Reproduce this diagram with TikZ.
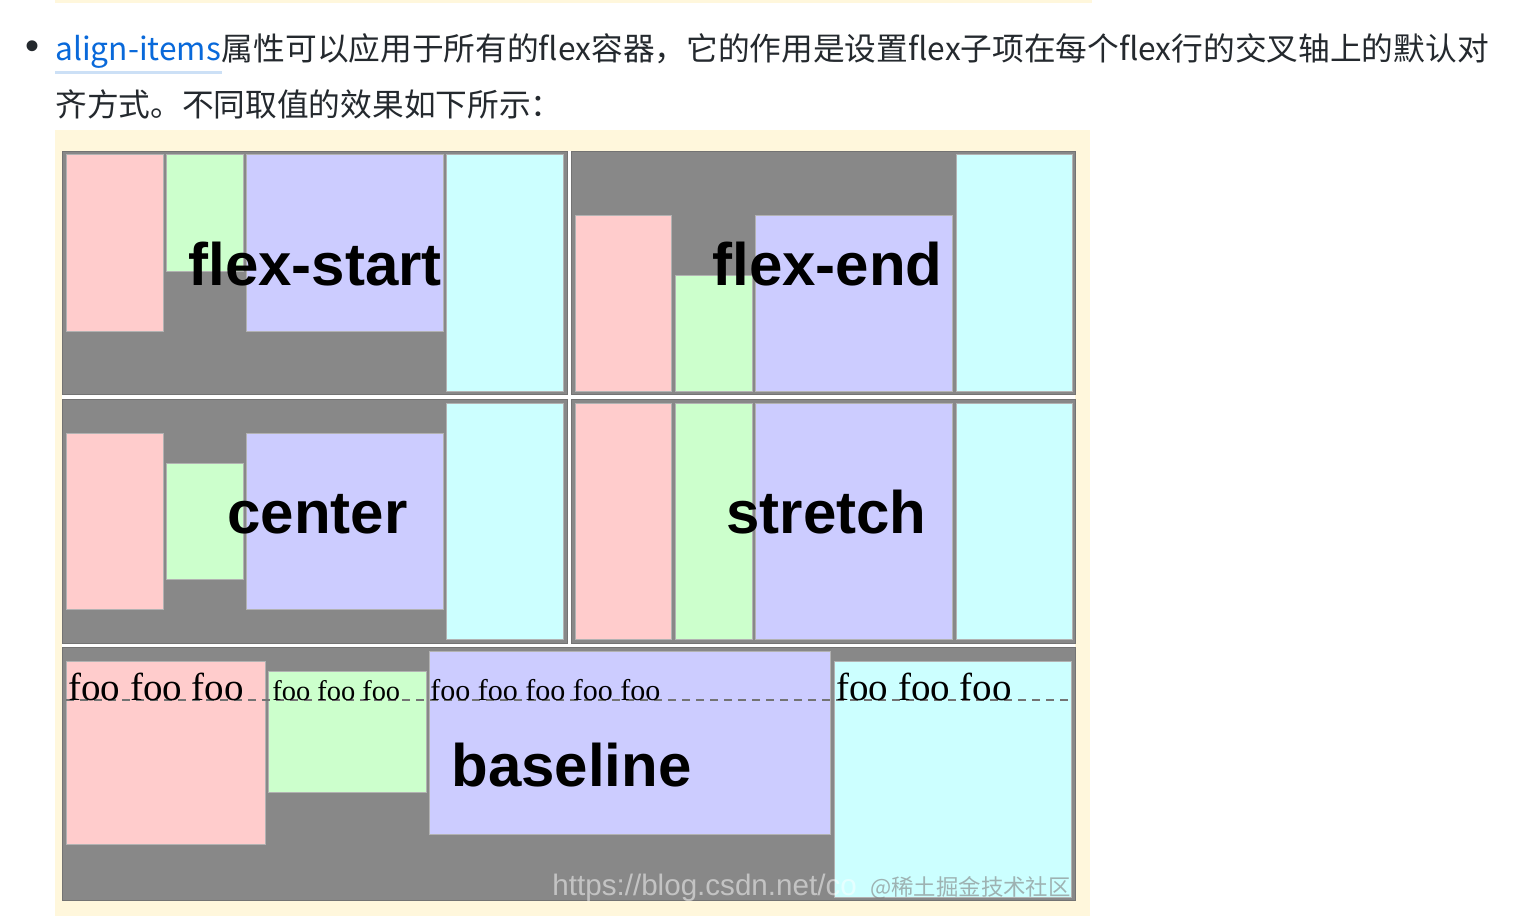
\documentclass[tikz,border=0pt]{standalone}
\usepackage{fontspec}
\setmainfont{Liberation Serif}
\newfontfamily\cjkfont{Noto Sans CJK SC}
\newfontfamily\labelfont{Liberation Sans}
\usetikzlibrary{positioning}

\definecolor{creambg}{RGB}{255,247,220}
\definecolor{flexgray}{RGB}{136,136,136}
\definecolor{pinkitem}{RGB}{255,204,204}
\definecolor{greenitem}{RGB}{204,255,204}
\definecolor{blueitem}{RGB}{204,204,255}
\definecolor{cyanitem}{RGB}{204,255,255}
\definecolor{textdark}{RGB}{36,41,46}
\definecolor{linkblue}{RGB}{9,105,218}
\definecolor{linkline}{RGB}{204,224,246}

\begin{document}
\begin{tikzpicture}[
    x=0.5pt, y=-0.5pt,
    flexbox/.style={fill=flexgray, draw=black!55, line width=0.5pt},
    item/.style={draw=black!30, line width=0.5pt},
    value/.style={font=\labelfont\bfseries\fontsize{30}{30}\selectfont, inner sep=0, anchor=base west},
    foo/.style={inner sep=0, anchor=base west},
    intro/.style={font=\cjkfont\fontsize{15.85}{15.85}\selectfont, inner sep=0, anchor=base west, text=textdark}
]
\useasboundingbox (0,0) rectangle (1522,916);
\fill[white] (0,0) rectangle (1522,916);

% Intro text
\fill[creambg] (55,0) rectangle (1092,3);
\node (bullet) [font=\labelfont\fontsize{20}{20}\selectfont, text=textdark, inner sep=0] at (33,50) {•};
\node (link) [intro, text=linkblue] at (55,60) {align-items};
\node (line1) [intro] at (link.base east) {属性可以应用于所有的flex容器，它的作用是设置flex子项在每个flex行的交叉轴上的默认对};
\node (line2) [intro] at (55,116) {齐方式。不同取值的效果如下所示：};
\draw[linkline, line width=1.2pt] ([yshift=-2pt]link.south west) -- ([yshift=-2pt]link.south east);

% Background
\fill[creambg] (55,130) rectangle (1090,916);
\fill[white] (62,151) rectangle (1075,900);

% flex-start
\draw[flexbox] (62,151) rectangle (567,394);
\draw[item, fill=pinkitem] (66,154) rectangle (163,331);
\draw[item, fill=greenitem] (166,154) rectangle (243,271);
\draw[item, fill=blueitem] (246,154) rectangle (443,331);
\draw[item, fill=cyanitem] (446,154) rectangle (563,391);
\node (start) [value] at (188,285) {flex-start};

% flex-end
\draw[flexbox] (571,151) rectangle (1075,394);
\draw[item, fill=pinkitem] (575,215) rectangle (671,391);
\draw[item, fill=greenitem] (675,275) rectangle (752,391);
\draw[item, fill=blueitem] (755,215) rectangle (952,391);
\draw[item, fill=cyanitem] (956,154) rectangle (1072,391);
\node (end) [value] at (712,285) {flex-end};

% center
\draw[flexbox] (62,399) rectangle (567,643);
\draw[item, fill=pinkitem] (66,433) rectangle (163,609);
\draw[item, fill=greenitem] (166,463) rectangle (243,579);
\draw[item, fill=blueitem] (246,433) rectangle (443,609);
\draw[item, fill=cyanitem] (446,403) rectangle (563,639);
\node (center) [value] at (227,533) {center};

% stretch
\draw[flexbox] (571,399) rectangle (1075,643);
\draw[item, fill=pinkitem] (575,403) rectangle (671,639);
\draw[item, fill=greenitem] (675,403) rectangle (752,639);
\draw[item, fill=blueitem] (755,403) rectangle (952,639);
\draw[item, fill=cyanitem] (956,403) rectangle (1072,639);
\node (stretch) [value] at (726,533) {stretch};

% baseline
\draw[flexbox] (62,647) rectangle (1075,900);
\draw[item, fill=pinkitem] (66,661) rectangle (265,844);
\draw[item, fill=greenitem] (268,671) rectangle (426,792);
\draw[item, fill=blueitem] (429,651) rectangle (830,834);
\draw[item, fill=cyanitem] (834,661) rectangle (1071,897);
\draw[black!55, line width=0.8pt, dash pattern=on 4pt off 3pt] (66,700) -- (1070,700);
\node (foo1) [foo, font=\fontsize{19.5}{19.5}\selectfont] at (68,700) {foo foo foo};
\node (foo2) [foo, font=\fontsize{14.2}{14.2}\selectfont] at (272,700) {foo foo foo};
\node (foo3) [foo, font=\fontsize{15}{15}\selectfont] at (430,700) {foo foo foo foo foo};
\node (foo4) [foo, font=\fontsize{19.5}{19.5}\selectfont] at (836,700) {foo foo foo};
\node (base) [value] at (451,786) {baseline};

% Watermark
\node (mark) [foo, font=\labelfont\fontsize{14.8}{14.8}\selectfont, text=white, text opacity=0.5] at (552,895) {https://blog.csdn.net/co};
\node (mark2) [foo, font=\cjkfont\fontsize{11.2}{11.2}\selectfont, text=black!50, text opacity=0.6] at (870,895) {@稀土掘金技术社区};

\end{tikzpicture}
\end{document}
